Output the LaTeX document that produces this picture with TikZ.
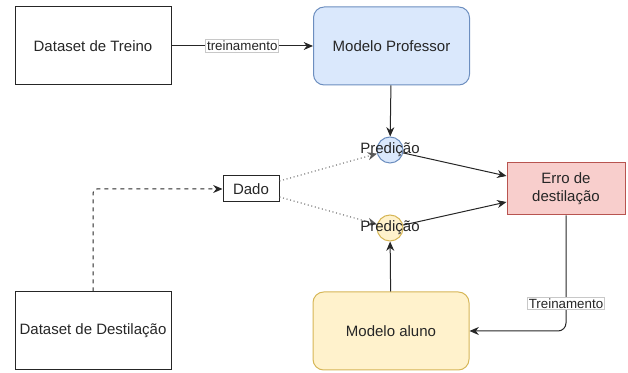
\documentclass[tikz,border=0pt]{standalone}
\usepackage{fontspec}
\setmainfont{Liberation Sans}
\usetikzlibrary{arrows.meta,positioning}
\definecolor{Ink}{HTML}{262626}
\definecolor{ProfFill}{HTML}{DAE8FC}
\definecolor{ProfLine}{HTML}{6C8EBF}
\definecolor{AlunoFill}{HTML}{FFF2CC}
\definecolor{AlunoLine}{HTML}{D6B656}
\definecolor{ErroFill}{HTML}{F8CECC}
\definecolor{ErroLine}{HTML}{B85450}
\definecolor{TagLine}{HTML}{C8C8C8}
\definecolor{Dots}{HTML}{595959}

\begin{document}
\begin{tikzpicture}[x=0.75pt,y=-0.75pt,
  dataset/.style={rectangle,draw=Ink,line width=0.75pt,text=Ink,minimum width=117pt,minimum height=58.5pt,inner sep=0pt,font=\fontsize{11.25}{13.5}\selectfont},
  modelo/.style={dataset,rounded corners=8pt},
  dado/.style={dataset,minimum width=42pt,minimum height=19.5pt},
  erro/.style={dataset,draw=ErroLine,fill=ErroFill,minimum width=88.5pt,minimum height=39pt,align=center},
  pred/.style={circle,line width=0.75pt,minimum size=19.5pt,inner sep=0pt},
  predtxt/.style={text=Ink,inner sep=0pt,font=\fontsize{11.25}{13.5}\selectfont},
  tag/.style={sharp corners,fill=white,draw=TagLine,line width=0.5pt,text=Ink,inner sep=1pt,font=\fontsize{10}{12}\selectfont},
  seta/.style={draw=Ink,line width=0.75pt,-{Stealth[length=7pt,width=6pt]}},
  fluxo/.style={draw=Dots,line width=0.75pt,dotted,-{Stealth[length=7pt,width=6pt]}}
]
\useasboundingbox (0,0) rectangle (628,373);
\node[dataset] (treino) at (93,46) {Dataset de Treino};
\node[modelo,draw=ProfLine,fill=ProfFill] (prof) at (391.5,46) {Modelo Professor};
\node[dataset] (dest) at (93,331) {Dataset de Destilação};
\node[modelo,draw=AlunoLine,fill=AlunoFill] (aluno) at (391,331) {Modelo aluno};
\node[dado] (dado) at (251,189) {Dado};
\node[erro] (erro) at (566,189) {Erro de\\destilação};
\node[pred,draw=ProfLine,fill=ProfFill] (predP) at (390,150) {};
\node[pred,draw=AlunoLine,fill=AlunoFill] (predA) at (390,228) {};
\draw[seta] (treino) -- node[tag] {treinamento} (prof);
\draw[seta] (prof) -- (predP);
\draw[seta] (aluno) -- (predA);
\draw[fluxo] (dado) -- (predP);
\draw[fluxo] (dado) -- (predA);
\draw[seta] (predP) -- ([yshift=9.75pt]erro.west);
\draw[seta] (predA) -- ([yshift=-9.75pt]erro.west);
\draw[seta,dashed,rounded corners=3pt] (dest) |- (dado);
\draw[seta,rounded corners=6pt] (erro) |- node[tag,pos=0.38] {Treinamento} (aluno);
\node[predtxt] (predPtxt) at (predP) {Predição};
\node[predtxt] (predAtxt) at (predA) {Predição};
\end{tikzpicture}
\end{document}
